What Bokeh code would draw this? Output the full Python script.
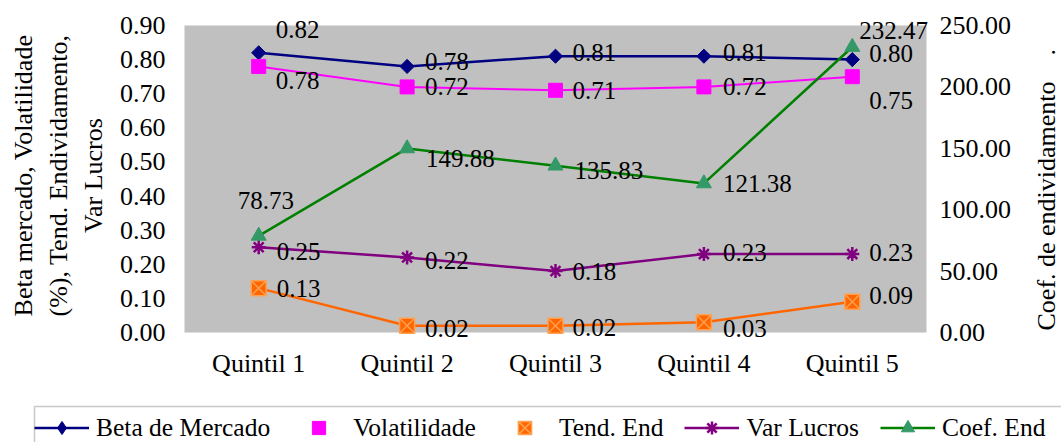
import numpy as np
from bokeh.plotting import figure
from bokeh.layouts import row
from bokeh.models import (ColumnDataSource, Range1d, LinearAxis, FixedTicker, Label,
                          PrintfTickFormatter, Legend, LegendItem, FactorRange, BoxAnnotation)
from bokeh.core.properties import value
from bokeh.embed import file_html
from bokeh.resources import INLINE

# ---------------- data ----------------
quintis = ["Quintil 1", "Quintil 2", "Quintil 3", "Quintil 4", "Quintil 5"]
beta_mercado = [0.82, 0.78, 0.81, 0.81, 0.80]
volatilidade = [0.78, 0.72, 0.71, 0.72, 0.75]
tend_end = [0.13, 0.02, 0.02, 0.03, 0.09]
var_lucros = [0.25, 0.22, 0.18, 0.23, 0.23]
coef_end = [78.73, 149.88, 135.83, 121.38, 232.47]
left_ticks = [0.0, 0.1, 0.2, 0.3, 0.4, 0.5, 0.6, 0.7, 0.8, 0.9]
right_ticks = [0, 50, 100, 150, 200, 250]
left_max = 0.9
right_max = 250
series_names = ["Beta de Mercado", "Volatilidade", "Tend. End", "Var Lucros", "Coef. End"]
left_title = "Beta mercado, Volatilidade\n(%), Tend. Endividamento,\nVar Lucros"
right_title = "Coef. de endividamento" + "\u00a0" * 4 + "."

# ---------------- styles / layout ----------------
FONT = "Liberation Serif"
W, H_MAIN, H_LEG = 1061, 400, 42
W_TITLE = 41
W_MAIN = W - W_TITLE
PLOT_L, PLOT_R, PLOT_T, PLOT_B = 184, 926, 25, 332      # grey plotting area (px)
PAD_X, PAD_T, PAD_B = 12, 22, 15                         # frame extends beyond grey area
FRAME_L, FRAME_R = PLOT_L - PAD_X, PLOT_R + PAD_X
FRAME_T, FRAME_B = PLOT_T - PAD_T, PLOT_B + PAD_B
plot_h = PLOT_B - PLOT_T
cat_w = (PLOT_R - PLOT_L) / len(quintis)

NAVY, MAGENTA, ORANGE, PURPLE, GREEN, SEAGREEN = (
    "#000080", "#FF00FF", "#FF6600", "#800080", "#008000", "#339966")

# data-label offsets in screen px (dx, dy), dy positive = down
label_offsets = {
    "beta": [(17, -23), (18, -5), (17, -4), (19, -4), (17, -6)],
    "vol": [(17, 14), (18, 0), (17, 0), (19, 0), (17, 24)],
    "tend": [(18, 0), (18, 3), (17, 2), (19, 6), (17, -6)],
    "var": [(18, 4), (18, 3), (17, 0), (19, -2), (17, -2)],
    "coef": [(-21, -35), (19, 10), (19, 5), (19, 0), (7, -17)],
}

x_range = FactorRange(*quintis, range_padding=PAD_X / cat_w, range_padding_units="absolute")
ly_range = Range1d(-left_max * PAD_B / plot_h, left_max + left_max * PAD_T / plot_h)
ry_range = Range1d(-right_max * PAD_B / plot_h, right_max + right_max * PAD_T / plot_h)

p = figure(width=W_MAIN, height=H_MAIN, x_range=x_range, y_range=ly_range,
           output_backend="svg", toolbar_location=None,
           min_border_left=FRAME_L, min_border_right=W_MAIN - FRAME_R,
           min_border_top=FRAME_T, min_border_bottom=H_MAIN - FRAME_B)
p.extra_y_ranges = {"coef": ry_range}
p.background_fill_color = "white"
p.border_fill_color = "white"
p.outline_line_color = None
p.xgrid.visible = False
p.ygrid.visible = False

# grey plotting area
p.add_layout(BoxAnnotation(left=0, right=len(quintis), bottom=0, top=left_max,
                           fill_color="#C0C0C0", fill_alpha=1.0, line_color=None,
                           level="underlay"))

right_axis = LinearAxis(y_range_name="coef")
p.add_layout(right_axis, "right")

for ax in [p.xaxis[0], p.yaxis[0], right_axis]:
    ax.axis_line_color = None
    ax.major_tick_line_color = None
    ax.minor_tick_line_color = None
    ax.major_tick_out = 0
    ax.major_tick_in = 0
    ax.minor_tick_out = 0
    ax.major_label_text_font = FONT
    ax.major_label_text_font_size = "26px"
    ax.major_label_text_color = "black"

p.xaxis[0].major_label_standoff = 1

ly = p.yaxis[0]
ly.ticker = FixedTicker(ticks=left_ticks)
ly.formatter = PrintfTickFormatter(format="%.2f")
ly.major_label_standoff = 7
ly.axis_label = left_title
ly.axis_label_text_font = FONT
ly.axis_label_text_font_size = "26px"
ly.axis_label_text_font_style = "normal"
ly.axis_label_text_color = "black"
ly.axis_label_standoff = 9

right_axis.ticker = FixedTicker(ticks=right_ticks)
right_axis.formatter = PrintfTickFormatter(format="%.2f")
right_axis.major_label_standoff = 1

# ---------------- series ----------------
def labels_src(vals, key):
    offs = label_offsets[key]
    return ColumnDataSource(dict(x=quintis, y=vals, t=["%.2f" % v for v in vals],
                                 dx=[o[0] for o in offs], dy=[o[1] for o in offs]))


p.line(quintis, beta_mercado, line_color=NAVY, line_width=2.5)
p.scatter(quintis, beta_mercado, marker="square", angle=np.pi / 4, size=10,
          fill_color=NAVY, line_color=NAVY)
p.line(quintis, volatilidade, line_color=MAGENTA, line_width=2)
p.scatter(quintis, volatilidade, marker="square", size=14, fill_color=MAGENTA, line_color=MAGENTA)
p.line(quintis, tend_end, line_color=ORANGE, line_width=2.5)
p.scatter(quintis, tend_end, marker="square_x", size=15,
          fill_color=ORANGE, line_color="#FFA050", line_width=1.5)
p.line(quintis, var_lucros, line_color=PURPLE, line_width=2.5)
p.scatter(quintis, var_lucros, marker="asterisk", size=14, line_color=PURPLE, line_width=2.5)
p.line(quintis, coef_end, line_color=GREEN, line_width=2.5, y_range_name="coef")
p.scatter(quintis, coef_end, marker="triangle", size=15, fill_color=SEAGREEN,
          line_color=SEAGREEN, y_range_name="coef")

for vals, key, rng in [(beta_mercado, "beta", "default"), (volatilidade, "vol", "default"),
                       (tend_end, "tend", "default"), (var_lucros, "var", "default"),
                       (coef_end, "coef", "coef")]:
    p.text(x="x", y="y", text="t", source=labels_src(vals, key), x_offset="dx", y_offset="dy",
           text_font=value(FONT), text_font_size=value("25px"), text_color="black",
           text_align="left", text_baseline="middle", y_range_name=rng)

# ---------------- right title strip ----------------
tf = figure(width=W_TITLE, height=H_MAIN, x_range=Range1d(0, 1), y_range=Range1d(0, 1),
            output_backend="svg", toolbar_location=None,
            x_axis_location=None, y_axis_location=None,
            min_border_left=0, min_border_right=0,
            min_border_top=FRAME_T, min_border_bottom=H_MAIN - FRAME_B)
tf.outline_line_color = None
tf.xgrid.visible = False
tf.ygrid.visible = False
tf.background_fill_color = "white"
tf.border_fill_color = "white"
tf.add_layout(Label(x=26, y=FRAME_B - 330, x_units="screen", y_units="screen",
                    angle=np.pi / 2, text=right_title, text_font=FONT,
                    text_font_size="26px", text_color="black",
                    text_align="left", text_baseline="middle"))

# ---------------- legend strip (separate figure below) ----------------
# same series drawn against a y-range where they fall outside the strip, so
# only the legend is visible
lf = figure(width=W, height=H_LEG, x_range=FactorRange(*quintis), y_range=Range1d(-2, -1),
            output_backend="svg", toolbar_location=None,
            x_axis_location=None, y_axis_location=None,
            min_border_left=0, min_border_right=0, min_border_top=0, min_border_bottom=0)
lf.outline_line_color = None
lf.xgrid.visible = False
lf.ygrid.visible = False
lf.background_fill_color = "white"
lf.border_fill_color = "white"

# legend frame: open on the right and bottom (runs past the window edge)
lf.add_layout(BoxAnnotation(left=34, right=W + 50, top=H_LEG - 6, bottom=-30,
                            left_units="screen", right_units="screen",
                            top_units="screen", bottom_units="screen",
                            fill_alpha=0, line_color="#4d4d4d", line_width=1.5))

lg_beta = [lf.line(quintis, beta_mercado, line_color=NAVY, line_width=2.5),
           lf.scatter(quintis, beta_mercado, marker="diamond", fill_color=NAVY, line_color=NAVY)]
lg_vol = [lf.scatter(quintis, volatilidade, marker="square", fill_color=MAGENTA, line_color=MAGENTA)]
lg_tend = [lf.scatter(quintis, tend_end, marker="square_x", fill_color=ORANGE,
                      line_color="#FFA050", line_width=1.5)]
lg_var = [lf.line(quintis, var_lucros, line_color=PURPLE, line_width=2.5),
          lf.scatter(quintis, var_lucros, marker="asterisk", line_color=PURPLE, line_width=2.5)]
lg_coef = [lf.line(quintis, coef_end, line_color=GREEN, line_width=2.5),
           lf.scatter(quintis, coef_end, marker="triangle", fill_color=SEAGREEN, line_color=SEAGREEN)]

legend = Legend(items=[LegendItem(label=lab, renderers=r) for lab, r in
                       zip(series_names, [lg_beta, lg_vol, lg_tend, lg_var, lg_coef])],
                orientation="horizontal", location=(34, -2), glyph_width=55, glyph_height=33,
                label_height=33, label_standoff=7, spacing=21, padding=6, margin=0,
                label_text_font=FONT, label_text_font_size="25.5px", label_text_color="black",
                border_line_color=None, background_fill_alpha=0)
lf.add_layout(legend)

open("out.html", "w").write(file_html([row(p, tf), lf], INLINE))
